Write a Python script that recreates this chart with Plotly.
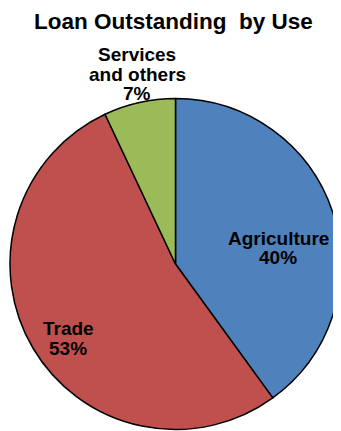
import plotly.graph_objects as go

categories = ["Agriculture", "Trade", "Services and others"]
values = [40, 53, 7]
label_lines = [["Agriculture"], ["Trade"], ["Services", "and others"]]
colors = ["#4F81BD", "#C0504D", "#9BBB59"]
title_text = "Loan Outstanding\u00a0\u00a0by Use"

OFF = 8  # page body margin
W, H = 333, 423


def px(x):
    return (x - OFF) / W


def py(y):
    return (H - (y - OFF)) / H


fig = go.Figure(go.Pie(
    labels=categories, values=values, sort=False, direction="clockwise", rotation=0,
    marker=dict(colors=colors, line=dict(color="black", width=1.5)),
    textinfo="none", hoverinfo="label+percent", showlegend=False,
    domain=dict(x=[px(10), 1.0], y=[max(py(431), 0), py(97)]),
))

# label positions in reference pixels (center x, baseline y of first line)
pos = [(278, 244), (68, 334), (137, 60)]
font = dict(family="Liberation Sans, Arial, sans-serif", size=19, color="black")
line_gap = 20
total = sum(values)
annotations = []
for lines, v, (cx, by) in zip(label_lines, values, pos):
    texts = lines + [f"{round(100 * v / total)}%"]
    for i, t in enumerate(texts):
        base = by + i * line_gap
        annotations.append(dict(
            text=f"<b>{t}</b>", x=px(cx), y=py(base - 6), xref="paper", yref="paper",
            xanchor="center", yanchor="middle", showarrow=False, font=font,
        ))

annotations.append(dict(
    text=f"<b>{title_text}</b>", x=px(173), y=1.0, xref="paper", yref="paper",
    xanchor="center", yanchor="top", showarrow=False, borderpad=0,
    font=dict(family="Liberation Sans, Arial, sans-serif", size=22.5, color="black"),
))

fig.update_layout(
    width=W, height=H, margin=dict(l=0, r=0, t=0, b=0),
    paper_bgcolor="white", plot_bgcolor="white", annotations=annotations,
)
fig.write_html("out.html")
